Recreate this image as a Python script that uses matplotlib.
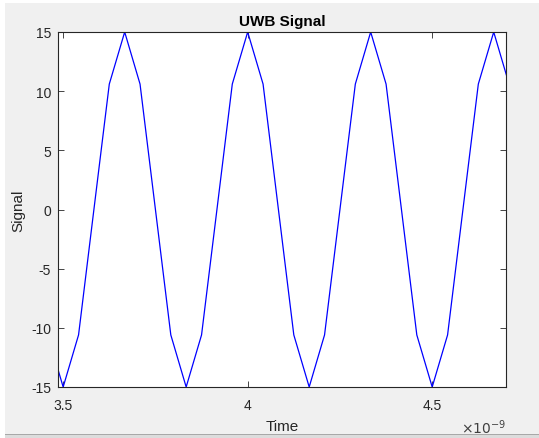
import matplotlib
matplotlib.use("Agg")
import matplotlib.pyplot as plt
from matplotlib.patches import Rectangle

# sample times (ns) and signal values
time_ns = [3.4583, 3.5000, 3.5417, 3.5833, 3.6250, 3.6667, 3.7083, 3.7500,
           3.7917, 3.8333, 3.8750, 3.9167, 3.9583, 4.0000, 4.0417, 4.0833,
           4.1250, 4.1667, 4.2083, 4.2500, 4.2917, 4.3333, 4.3750, 4.4167,
           4.4583, 4.5000, 4.5417, 4.5833, 4.6250, 4.6667, 4.7083]
signal = [-10.6, -15, -10.6, 0, 10.6, 15, 10.6, 0,
          -10.6, -15, -10.6, 0, 10.6, 15, 10.6, 0,
          -10.6, -15, -10.6, 0, 10.6, 15, 10.6, 0,
          -10.6, -15, -10.6, 0, 10.6, 15, 10.6]

x_ticks = [3.5, 4.0, 4.5]
x_tick_labels = ["3.5", "4", "4.5"]
y_ticks = [-15, -10, -5, 0, 5, 10, 15]

plt.rcParams['font.family'] = ['Liberation Sans', 'DejaVu Sans']
plt.rcParams['axes.unicode_minus'] = False

W, H = 539, 439
fig = plt.figure(figsize=(W / 100, H / 100), dpi=100, facecolor='white')

# matlab window background
fig.patches.append(Rectangle((5 / W, 4 / H), 1 - 5 / W, (435 - 4) / H,
                             transform=fig.transFigure, facecolor='#f0f0f0',
                             edgecolor='none', zorder=-10))
fig.patches.append(Rectangle((5 / W, 0), 1 - 5 / W, 4 / H,
                             transform=fig.transFigure, facecolor='#dcdcdc',
                             edgecolor='none', zorder=-10))
fig.patches.append(Rectangle((5 / W, 3.5 / H), 1 - 5 / W, 1 / H,
                             transform=fig.transFigure, facecolor='#a8a8a8',
                             edgecolor='none', zorder=-9))

ax = fig.add_axes([58 / W, 1 - 388 / H, (506 - 58) / W, (388 - 33) / H])
ax.plot(time_ns, signal, color='#0000ff', lw=0.9)

ax.set_xlim(3.486, 4.7)
ax.set_ylim(-15, 15)
ax.set_xticks(x_ticks)
ax.set_xticklabels(x_tick_labels)
ax.set_yticks(y_ticks)

grey = '#262626'
for s in ax.spines.values():
    s.set_color(grey)
    s.set_linewidth(0.8)
ax.tick_params(direction='in', length=4, width=0.6, colors=grey,
               labelsize=10, top=True, right=True)
ax.tick_params(axis='x', pad=8)
ax.tick_params(axis='y', pad=5)

ax.set_title('UWB Signal', fontsize=11, fontweight='bold', color='black', pad=5)
ax.set_xlabel('Time', fontsize=11, color=grey, labelpad=5)
ax.set_ylabel('Signal', fontsize=11, color=grey, labelpad=4)
ax.text(1.0, -0.085, r'$\times 10^{-9}$', transform=ax.transAxes, ha='right',
        va='top', fontsize=10, color='#404040')

fig.savefig('out.png', dpi=100, facecolor=fig.get_facecolor())
